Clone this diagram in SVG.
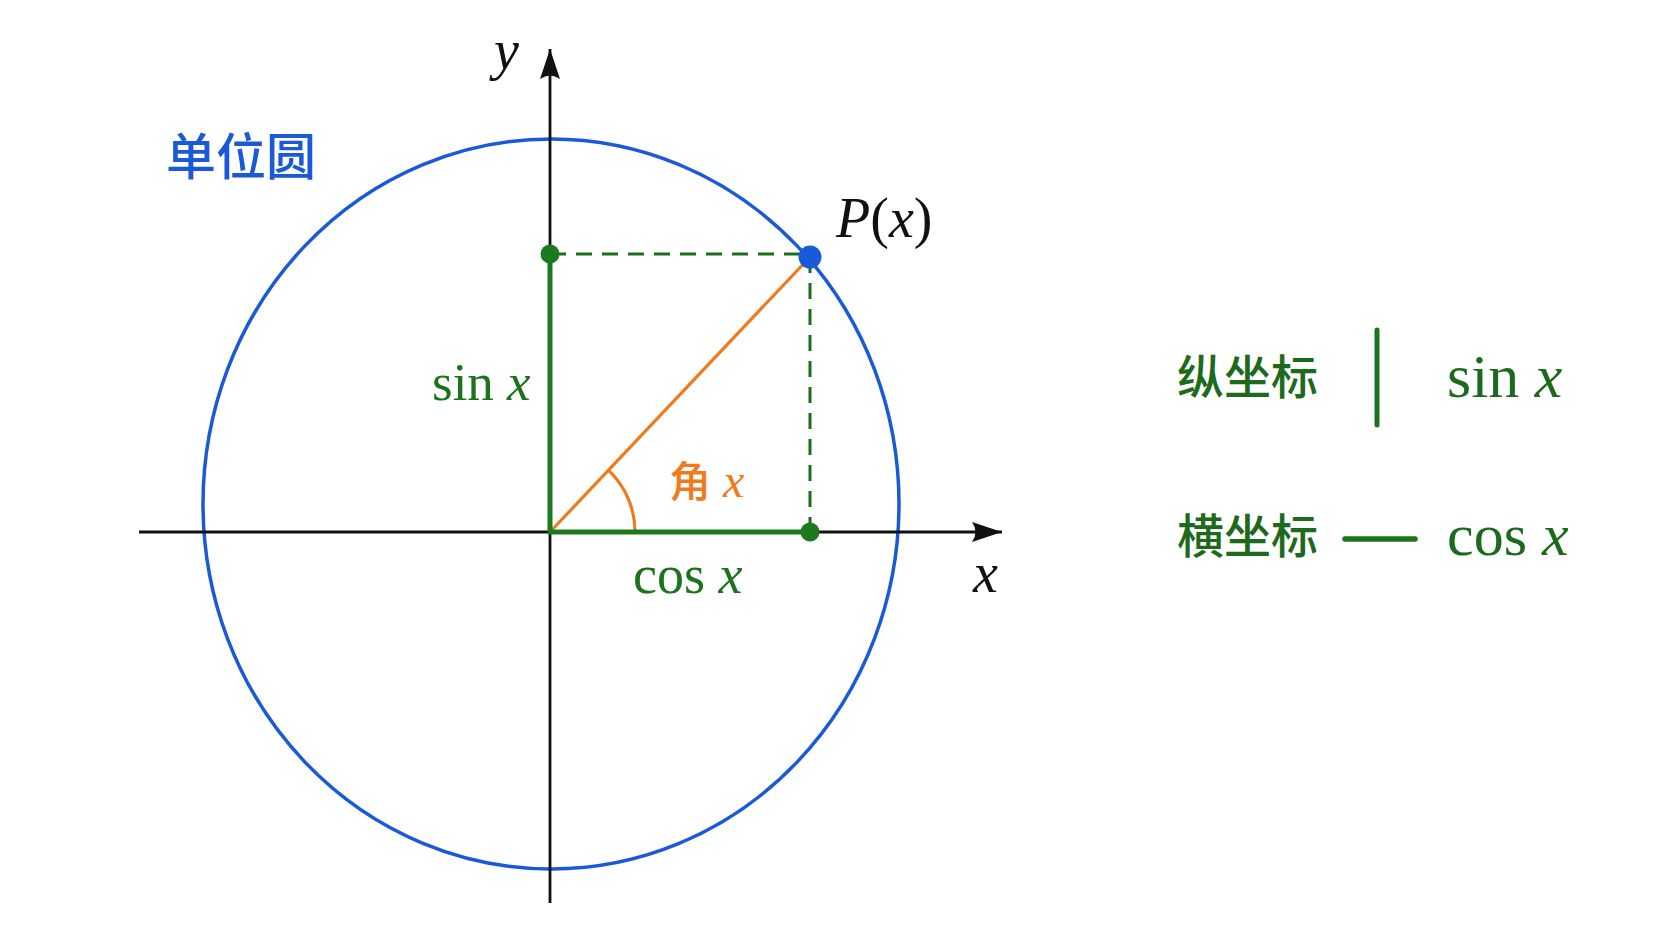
<svg xmlns="http://www.w3.org/2000/svg" width="1672" height="941" viewBox="0 0 1672 941">
  <style>
    .axis { stroke: #111111; stroke-width: 2.8; fill: none; }
    .circle { stroke: #1a5ad8; stroke-width: 3.5; fill: none; }
    .green { stroke: #1b7a1b; stroke-width: 5; fill: none; }
    .dash { stroke: #1b6e1b; stroke-width: 3; fill: none; stroke-dasharray: 16 10; }
    .orange { stroke: #f07a1c; stroke-width: 3.2; fill: none; }
    .serif { font-family: "Liberation Serif", "Times New Roman", serif; }
    .cjk { font-family: "Noto Sans CJK SC", "Noto Sans", sans-serif; font-weight: 500; }
    .it { font-style: italic; }
    .gtext { fill: #1b741b; }
    .ltext { fill: #1d6a1d; }
  </style>
  <defs>
    <marker id="arrow" viewBox="0 0 30 20" refX="30" refY="10" markerWidth="30" markerHeight="20" markerUnits="userSpaceOnUse" orient="auto">
      <path d="M30,10 L0,0 Q7,10 0,20 Z" fill="#111111"/>
    </marker>
  </defs>
  <rect width="1672" height="941" fill="#ffffff"/>

  <g id="unit-circle">
    <ellipse class="circle" cx="551" cy="504" rx="348" ry="365"/>
    <text class="cjk" x="166" y="175" font-size="50" fill="#1a5ad8">单位圆</text>
  </g>

  <g id="axes">
    <line class="axis" x1="139" y1="532" x2="1002" y2="532" marker-end="url(#arrow)"/>
    <line class="axis" x1="550" y1="903" x2="550" y2="49" marker-end="url(#arrow)"/>
    <text class="serif it" x="973" y="592" font-size="56" fill="#111111">x</text>
    <text class="serif it" x="494" y="69" font-size="56" fill="#111111">y</text>
  </g>

  <g id="connectors">
    <line class="dash" x1="550" y1="254" x2="810" y2="254"/>
    <line class="dash" x1="810" y1="257" x2="810" y2="532"/>
    <line class="orange" x1="550" y1="532" x2="810" y2="257"/>
    <path class="orange" d="M635,532 A85,85 0 0 0 608.4,470.2"/>
    <line class="green" x1="550" y1="532" x2="550" y2="254"/>
    <line class="green" x1="548" y1="532" x2="810" y2="532"/>
  </g>

  <g id="sin-point">
    <circle cx="550" cy="254" r="9.5" fill="#1b7a1b"/>
  </g>
  <g id="cos-point">
    <circle cx="810" cy="532" r="9.5" fill="#1b7a1b"/>
  </g>
  <g id="point-P">
    <circle cx="810" cy="257" r="11.5" fill="#1a5ad8"/>
    <text class="serif" x="836" y="237" font-size="56" fill="#111111"><tspan class="it">P</tspan>(<tspan class="it">x</tspan>)</text>
  </g>

  <g id="label-sin">
    <text class="serif gtext" x="432" y="400" font-size="53">sin <tspan class="it">x</tspan></text>
  </g>
  <g id="label-cos">
    <text class="serif gtext" x="633" y="593" font-size="54">cos <tspan class="it">x</tspan></text>
  </g>
  <g id="label-angle">
    <text x="669" y="497" font-size="42" fill="#f07a1c"><tspan class="cjk">角</tspan><tspan class="serif it" font-size="48"> x</tspan></text>
  </g>

  <g id="legend-ordinate">
    <text class="cjk ltext" x="1177" y="394" font-size="47">纵坐标</text>
    <line x1="1377" y1="330" x2="1377" y2="425" stroke="#1b741b" stroke-width="5" stroke-linecap="round"/>
    <text class="serif ltext" x="1447" y="397" font-size="62">sin <tspan class="it">x</tspan></text>
  </g>
  <g id="legend-abscissa">
    <text class="cjk ltext" x="1177" y="553" font-size="47">横坐标</text>
    <line x1="1345" y1="539" x2="1415" y2="539" stroke="#1b741b" stroke-width="5.5" stroke-linecap="round"/>
    <text class="serif ltext" x="1447" y="555" font-size="60">cos <tspan class="it">x</tspan></text>
  </g>
</svg>
